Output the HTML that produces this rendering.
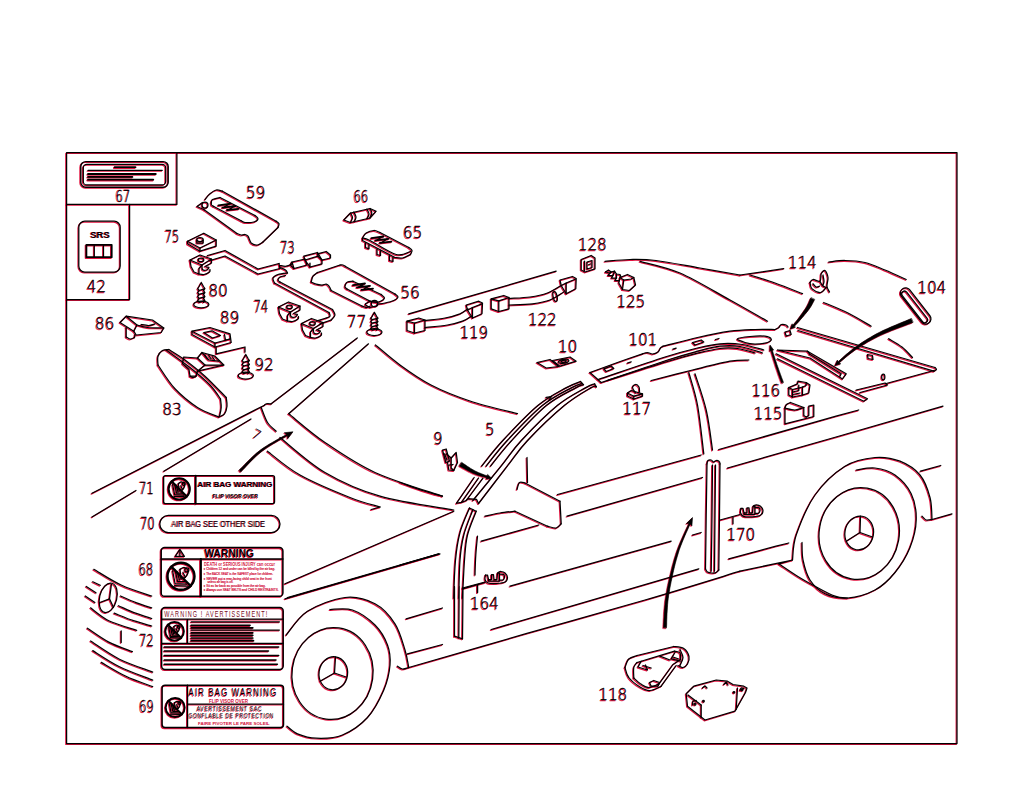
<!DOCTYPE html>
<html lang="en">
<head>
<meta charset="utf-8">
<title>Parts diagram</title>
<style>
html,body{margin:0;padding:0;background:#fff;}
body{width:1024px;height:794px;overflow:hidden;}
svg{display:block;color:#000;}
#art{stroke:currentColor;fill:none;stroke-width:1.25;stroke-linecap:round;stroke-linejoin:round;}
#art text{stroke:none;fill:currentColor;font-family:"Liberation Sans",sans-serif;}
.n{font-size:15.6px;text-anchor:middle;font-family:"DejaVu Sans Light","DejaVu Sans","Liberation Sans",sans-serif !important;font-weight:200;stroke:currentColor !important;stroke-width:.25;vector-effect:non-scaling-stroke;}
.c{font-size:16.3px;}
.b{font-weight:bold;}
.tk{stroke-width:2.4;}
.tk2{stroke-width:1.8;}
.f{fill:currentColor;}
.w{fill:#fff;}
#redtext text{font-family:"Liberation Sans",sans-serif;}
</style>
</head>
<body>
<svg width="1024" height="794" viewBox="0 0 1024 794">
<rect x="0" y="0" width="1024" height="794" fill="#fff"/>
<use href="#art" transform="translate(-0.8,0.8)" style="color:#e3123f"/>
<g id="art">
<!-- FRAME -->
<g id="frame">
<rect x="66.6" y="152.6" width="890.4" height="591"/>
<path d="M176.9 152.6V204.4H66.6"/>
<path d="M129.6 204.4V299.6H66.6"/>
</g>
<!-- NUMBERS -->
<g id="numbers">
<text class="n c" transform="translate(123 201.6) scale(.71 1)">67</text>
<text class="n" transform="translate(96.5 292.4) scale(.98 1)">42</text>
<text class="n" transform="translate(255.8 198.4) scale(.98 1)">59</text>
<text class="n c" transform="translate(172 242) scale(.71 1)">75</text>
<text class="n c" transform="translate(287.5 253) scale(.71 1)">73</text>
<text class="n c" transform="translate(361 202) scale(.71 1)">66</text>
<text class="n" transform="translate(412.8 238.4) scale(.98 1)">65</text>
<text class="n" transform="translate(410.3 298.4) scale(.98 1)">56</text>
<text class="n" transform="translate(218.3 296) scale(.98 1)">80</text>
<text class="n c" transform="translate(261 312) scale(.71 1)">74</text>
<text class="n" transform="translate(356.8 327.4) scale(.98 1)">77</text>
<text class="n" transform="translate(104.8 329.4) scale(.98 1)">86</text>
<text class="n" transform="translate(229.8 323) scale(.98 1)">89</text>
<text class="n" transform="translate(264.3 370) scale(.98 1)">92</text>
<text class="n" transform="translate(172.3 414.6) scale(.98 1)">83</text>
<text class="n" transform="translate(474 338.4) scale(.95 1)">119</text>
<text class="n" transform="translate(438 444.4) scale(.95 1)">9</text>
<text class="n" transform="translate(490 435) scale(.95 1)">5</text>
<text class="n c" transform="translate(146.5 493.6) scale(.71 1)">71</text>
<text class="n" transform="translate(592.5 250) scale(.97 1)">128</text>
<text class="n" transform="translate(631 307) scale(.97 1)">125</text>
<text class="n" transform="translate(542.5 325) scale(.97 1)">122</text>
<text class="n" transform="translate(567.8 352) scale(.98 1)">10</text>
<text class="n" transform="translate(643 345) scale(.97 1)">101</text>
<text class="n" transform="translate(802.5 268) scale(.97 1)">114</text>
<text class="n" transform="translate(932 293) scale(.97 1)">104</text>
<text class="n" transform="translate(637 414.4) scale(.97 1)">117</text>
<text class="n" transform="translate(766 396) scale(.97 1)">116</text>
<text class="n" transform="translate(768.3 419.4) scale(.97 1)">115</text>
<text class="n c" transform="translate(147.5 529) scale(.71 1)">70</text>
<text class="n c" transform="translate(146 575) scale(.71 1)">68</text>
<text class="n c" transform="translate(146.5 646) scale(.71 1)">72</text>
<text class="n c" transform="translate(146.5 712.4) scale(.71 1)">69</text>
<text class="n" transform="translate(484.5 609) scale(.97 1)">164</text>
<text class="n" transform="translate(741 540.4) scale(.97 1)">170</text>
<text class="n" transform="translate(613 700) scale(.97 1)">118</text>
<text class="n" x="0" y="0" transform="translate(254.5,438.5) rotate(28)" style="font-size:13px">7</text>
</g>
<g id="car">
<path d="M92 493.3 L264.5 405.2"/>
<path d="M264.5 405.2C264.8 405 265.1 404 266.2 403.8C267.4 403.5 270.4 403.8 271.2 403.8"/>
<path d="M271.2 403.8 L357.3 338"/>
<path d="M92 517 L136 490.5"/>
<path d="M163.8 471.2 L251 419"/>
<path d="M368.5 343.8 L288.7 413.7"/>
<path d="M288.8 413.8C294.8 418.5 310.6 432.7 325 442.5C339.4 452.3 355.4 463.5 375 472.5C394.6 481.5 431.2 492.3 442.5 496.2"/>
<path d="M280 437.5C287.5 443.3 308.3 462.7 325 472.5C341.7 482.3 358.5 490 380 496.2C401.5 502.5 441.5 507.7 453.8 510"/>
<path d="M267.5 451.2C272.9 455.2 286.2 467.3 300 475C313.8 482.7 336.7 492.2 350 497.5C363.3 502.8 375 505.4 380 507"/>
<path d="M380 507 L371.2 509.5"/>
<path d="M261.2 407.5C262.3 410 265 418.5 267.5 422.5C270 426.5 274.8 429.8 276.2 431.2"/>
<path d="M453.8 511.2 L285 583.8"/>
<path d="M438.8 553.8 L287.5 597.5"/>
<path d="M375.5 345C379.6 348.3 390.8 358.3 400 365C409.2 371.7 419.3 379 431 385C442.7 391 455.6 396.2 470 401C484.4 405.8 509.6 411.6 517.5 413.7"/>
<path d="M408.8 313.8 L556.2 271.2"/>
<path d="M605 261.3C609.2 261 621.5 259.6 630 259.5C638.5 259.4 644.3 259.1 656 260.5C667.7 261.9 686 265.6 700 268C714 270.4 733.3 273.8 740 275"/>
<path d="M740 275 L783.7 268.7"/>
<path d="M640 261.3C646.7 263.2 665 266.6 680 273C695 279.4 715.4 292 730 300C744.6 308 761.2 317.7 767.5 321.2"/>
<path d="M750 275C754.2 276.3 766.2 279.9 775 283C783.8 286.1 797.9 291.9 802.5 293.7"/>
<path d="M828.7 262C831.4 261.8 839 260.4 845 260.5C851 260.6 858.3 260.9 865 262.5C871.7 264.1 878.1 267.2 885 270C891.9 272.8 902.7 277.9 906.2 279.5"/>
<path d="M823.7 302.5C827.8 304.2 840.1 309.1 848 313C855.9 316.9 867.3 324 871.2 326.2"/>
<path d="M888.7 338.7C890.9 340.1 898 343.9 902 347C906 350.1 910.8 355.8 912.5 357.5"/>
<path d="M481.7 466.1C485.2 461.8 493.5 450.6 502.9 440.5C512.3 430.4 527.6 414.1 538.2 405.3C548.8 396.5 559.4 391.6 566.4 387.6C573.4 383.6 578.1 382.5 580.5 381.5"/>
<path d="M486.2 466.1C489.7 461.8 497.9 450.6 507.3 440.5C516.7 430.4 531.9 414.1 542.6 405.3C553.3 396.5 565.1 391.2 571.7 387.6C578.3 384 580.3 384.2 582 383.5"/>
<path d="M490.6 466.1C494.1 461.8 502.4 450.6 511.7 440.5C521 430.4 535.9 414.1 546.6 405.3C557.3 396.5 570 391.1 576.1 387.6C582.2 384.2 582.3 385.1 583.5 384.6"/>
<path d="M472.9 500.5C477.6 494.8 493 476.1 501.1 466.1C509.2 456.1 512 450.6 521.4 440.5C530.8 430.4 546.9 414.1 557.6 405.3C568.3 396.5 579.6 391.2 585.8 387.6C592 384 593.1 384.4 594.6 383.8"/>
<path d="M478.6 503.5C483.4 497.3 499.1 476.6 507.3 466.1C515.5 455.6 518.1 450.6 527.6 440.5C537.1 430.4 554 414.1 564.6 405.3C575.2 396.5 585.8 390.7 591.1 387.6C596.4 384.5 595.5 386.9 596.4 386.8"/>
<path d="M456.6 503.2 L474.2 477.5"/>
<path d="M461.5 502.3 L478.6 478"/>
<path d="M466.3 500.5 L483 478.2"/>
<path d="M456.6 503.2 L461.5 502.3 L466.3 500.5 L468 498.6 L476.5 499.3 L478.6 503.5"/>
<path d="M580.5 381.5 L583.5 384.6"/>
<path d="M594.6 383.8 L596.4 386.8"/>
<path d="M546.1 397.3 L551.5 396.5 L549 400"/>
<path d="M469.5 508C467.9 512.1 462.3 523.8 460 532.5C457.7 541.2 456.5 549.2 455.5 560C454.5 570.8 453.9 592.9 453.8 597.5C453.6 602.1 454.4 581 454.5 587.5C454.6 594 454.5 628.1 454.5 636.2"/>
<path d="M473 509.5C471.5 513.8 465.9 526.6 463.8 535C461.6 543.4 460.8 549.6 460 560C459.2 570.4 458.9 592.9 458.8 597.5C458.6 602.1 459.2 580.8 459.2 587.5C459.2 594.2 458.8 629.6 458.8 638"/>
<path d="M476.2 511.2C474.8 515.2 469.5 526.9 467.5 535C465.5 543.1 465.3 549.6 464.5 560C463.7 570.4 462.8 592.9 462.5 597.5C462.2 602.1 463 580.6 463 587.5C463 594.4 462.6 630.2 462.5 638.8"/>
<path d="M469.5 508 L476.2 511.2"/>
<path d="M454.5 636.2 L462.5 638.8"/>
<path d="M477.5 536.2C477.2 539.4 476.2 548.5 475.8 555C475.3 561.5 475.1 571.7 475 575"/>
<path d="M477.5 585 L477.5 592.5"/>
<path d="M400 482.5C403.8 483.8 415.4 488.2 422.5 490.5C429.6 492.8 439.2 495.3 442.5 496.2"/>
<path d="M400 565 L438.8 553.8"/>
<path d="M485 516.2C487.5 515.7 495 513.8 500 513C505 512.2 512.5 511.5 515 511.2"/>
<path d="M515 511.2 L547.5 526.2"/>
<path d="M547.5 526.2C549 526.5 554 528.4 556.2 528C558.5 527.6 560.4 524.5 561.2 523.8"/>
<path d="M561.2 523.8 L560 501.2"/>
<path d="M560 501.2 L525 483"/>
<path d="M525 483C524.1 482.9 520.8 481.4 519.5 482.5C518.2 483.6 517.4 488.3 517 489.5"/>
<path d="M527 457.5 L527.5 482.5"/>
<path d="M557.5 494.5 L701.2 455"/>
<path d="M567 516.2 L702.5 477.5"/>
<path d="M481.2 541.2 L538.8 525"/>
<path d="M510 586.2 L671.2 541.2"/>
<path d="M692.5 535 L701.2 532.5"/>
<path d="M462.5 588 L485 582"/>
<path d="M491.2 629.5 L698.8 568.8"/>
<path d="M728.8 558.8 L776 546.2 L788.8 543"/>
<path d="M408.7 667.5C428.2 661.9 486.6 645 526 633.7C565.4 622.5 609.3 610.4 645 600C680.7 589.6 724.2 576 740 571.2"/>
<path d="M407.5 653.8 L442.5 644.5"/>
<path d="M406.2 618.8 L442.5 608"/>
<path d="M285 598.8 L440 553.8"/>
<path d="M286.2 635C289.8 631 297.7 617.5 307.5 611.2C317.3 605 333.8 598.8 345 597.5C356.2 596.2 366.7 599.4 375 603.8C383.3 608.1 390 616 395 623.8C400 631.5 402.7 642.7 405 650C407.3 657.3 408.1 664.6 408.8 667.5"/>
<path d="M397.5 666.2C398.3 666.7 400.6 668.8 402.5 669C404.4 669.2 407.7 667.8 408.8 667.5"/>
<ellipse cx="332.5" cy="673.5" rx="40.5" ry="46" transform="rotate(8 332.5 673.5)"/>
<ellipse cx="333.3" cy="673.3" rx="14.3" ry="16.6" transform="rotate(8 333.3 673.3)"/>
<path d="M335.5 657 L334.5 673 L320 681.2"/>
<path d="M334.5 673 L346.2 677"/>
<path d="M330 609.5C333.8 609.6 345 607.4 352.5 610C360 612.6 369.2 619.2 375 625C380.8 630.8 385 638.3 387.5 645C390 651.7 390.6 657.5 390 665C389.4 672.5 387.5 681.2 383.8 690C380 698.8 374.4 710 367.5 717.5C360.6 725 351 731.5 342.5 735C334 738.5 323.8 738.5 316.2 738.2C308.8 738 302.4 735.8 297.5 733.8C292.6 731.8 288.8 727.5 287 726.2"/>
<path d="M688.8 372.5C690.2 377.9 695 391.5 697.5 405C700 418.5 702.7 445.6 703.8 453.8"/>
<path d="M695 373.8C696.9 379.8 703.3 397.3 706.2 410C709.2 422.7 711.5 443.3 712.5 450"/>
<path d="M651.2 380.5C658.1 378.8 679.4 373.2 692.5 370C705.6 366.8 720.6 362.9 730 361.2C739.4 359.6 745.6 360.2 748.8 360"/>
<path d="M718.8 449.5 L836 416.2 L858.7 410"/>
<path d="M727.5 468 L836 437 L943 406.2"/>
<path d="M707 463.8C706.9 472.3 706.5 497.5 706.2 515C706 532.5 705.6 559.8 705.5 568.8"/>
<path d="M712.5 465C712.4 473.3 712.2 497.3 712 515C711.8 532.7 711.4 561.9 711.2 571.2"/>
<path d="M715.5 465C715.4 473.3 715.2 497.3 715 515C714.8 532.7 714.6 561.9 714.5 571.2"/>
<path d="M720 463.8C719.9 472.3 719.7 497.3 719.5 515C719.3 532.7 718.9 560.8 718.8 570"/>
<path d="M707 463.8C707.2 463.2 707.3 461.1 708 460.5C708.7 459.9 710.3 459.8 711.2 460C712.2 460.2 712.7 461.9 713.5 462C714.3 462.1 715.3 460.6 716.2 460.5C717.2 460.4 718.6 461 719.2 461.5C719.9 462 719.9 463.4 720 463.8"/>
<path d="M705.5 568.8C705.8 569.3 706.4 571.3 707.5 572C708.6 572.7 710.5 572.9 712 573C713.5 573.1 715.1 573 716.2 572.5C717.4 572 718.3 570.4 718.8 570"/>
<path d="M720 520 L740 514.5"/>
<path d="M733 517.5 L733 523.8"/>
<path d="M462.5 588.8 L485 582.5"/>
<path d="M477.5 585 L477.5 592.5"/>
<path d="M792.5 560C793.1 555.8 792.5 545.8 796.2 535C800 524.2 806.9 506.5 815 495C823.1 483.5 835 472.5 845 466.2C855 460 865.8 458.3 875 457.5C884.2 456.7 892.5 458.3 900 461.2C907.5 464.2 915 469 920 475C925 481 928 490.1 930 497.5C932 504.9 931.7 515.8 932 519.5"/>
<path d="M922 516.2C922.7 516.9 924.6 519.5 926.2 520C927.9 520.5 931 519.6 932 519.5"/>
<path d="M932 519.5 L952 513.8"/>
<path d="M920.5 471.2 L940.8 465.5"/>
<path d="M740 571.2 L792.5 560 L778.8 563.8"/>
<path d="M778.8 563.8C781.9 565.8 791.5 572.5 797.5 576.2C803.5 580 808.8 582.9 815 586.2C821.2 589.6 829.6 594.3 835 596.2C840.4 598.2 845.4 597.7 847.5 598"/>
<ellipse cx="859.2" cy="533.5" rx="40" ry="46" transform="rotate(10 859.2 533.5)"/>
<ellipse cx="859.2" cy="533" rx="14.3" ry="17" transform="rotate(10 859.2 533)"/>
<path d="M860.5 516.2 L860 532.5 L846.2 541.2"/>
<path d="M860 532.5 L872.5 537"/>
<path d="M856.2 470C859.4 469.7 868.5 467.2 875 468C881.5 468.8 889 470.7 895 475C901 479.3 907.7 486.2 911.2 493.8C914.8 501.2 916.5 511 916.2 520C916 529 913.5 538.8 910 547.5C906.5 556.2 900.8 565.4 895 572.5C889.2 579.6 882.9 585.8 875 590C867.1 594.2 855.8 597.4 847.5 598C839.2 598.6 831.2 596.8 825 593.8C818.8 590.8 813.7 585.6 810 580C806.3 574.4 804.3 566.2 803 560C801.7 553.8 802.2 545.4 802 542.5"/>
<path d="M93.8 569.3C98.5 571.9 112 580.9 121.7 585.3C131.3 589.8 146.7 594.3 151.7 596"/>
<path d="M92.8 581.7 L100.3 585.3"/>
<path d="M86.3 586.4 L96 592.8"/>
<path d="M85.3 596 L94.9 602.5"/>
<path d="M120.6 596C123.3 597.2 131.5 600.9 136.7 602.9C141.8 604.9 149.2 607 151.7 607.8"/>
<path d="M118.5 605.7C121.3 606.9 130.1 611 135.6 613.2C141.1 615.3 149 617.6 151.7 618.5"/>
<path d="M114.2 613.2C117.4 614.4 127.2 618.5 133.5 620.7C139.7 622.8 148.6 625.1 151.7 626"/>
<path d="M90.6 607.8C93.7 610 101.2 616.9 108.8 620.7C116.5 624.4 132 628.7 136.7 630.3"/>
<path d="M87.4 628.2C91 630.5 101.3 638.2 108.8 642.1C116.3 646 128.5 650.1 132.4 651.7"/>
<path d="M90.6 641C95.4 644 109.2 654 119.5 659.2C129.9 664.4 147.2 669.9 152.7 672.1"/>
<path d="M92.8 650.6C97.2 653.3 109.5 661.8 119.5 666.7C129.5 671.6 147.2 677.9 152.7 680.2"/>
<path d="M101.3 662.4C105.4 664.7 117.4 672.3 126 676.3C134.5 680.4 148.3 684.9 152.7 686.6"/>
<path d="M121.2 630.9 L121.2 642.5"/>
<ellipse cx="108.2" cy="597.8" rx="8.6" ry="15" transform="rotate(14 108.2 597.8)"/>
<path d="M111.4 584.3 L109.5 598.8 L99.8 602.5"/>
<path d="M109.5 598.8 L113.5 607.4"/>
</g>
<g id="parts">
<rect x="80.8" y="161.6" width="87.4" height="25.6" rx="5" ry="5" style="stroke-width:1.4"/>
<rect x="83.3" y="164.3" width="82.4" height="20.6" rx="3.5" ry="3.5"/>
<path class="tk2" d="M114.6 167.2H135.5M88 174H155.8M88 176.9H132.4M88 179.7H153.3"/>
<path d="M88 170.4H162.2"/>
<rect x="78.8" y="221.2" width="41.4" height="50.8" rx="6" ry="6"/>
<text class="b" x="90.2" y="237.5" textLength="19.8" lengthAdjust="spacingAndGlyphs" style="font-size:9.9px">SRS</text>
<rect x="86.4" y="244.8" width="25.3" height="12.4" class="tk2"/>
<path d="M94.3 244.8V257.2M103.5 244.8V257.2"/>
<path d="M205 199.5C205.8 198.5 208.1 195.3 210 193.8C211.9 192.2 214.2 190.4 216.2 190C218.3 189.6 221.5 191 222.5 191.2"/>
<path d="M222.5 191.2 L276.2 221.2"/>
<path d="M276.2 221.2C276.7 221.7 278.7 222.7 279 223.8C279.3 224.8 278.2 226.9 278 227.5"/>
<path d="M278 227.5 L263 242"/>
<path d="M263 242C262.1 242.5 259.5 244.8 257.5 245C255.5 245.2 252.8 244.5 251.2 243C249.7 241.5 249.1 237.7 248 236.2C246.9 234.8 245.1 234.8 244.5 234.5"/>
<path d="M244.5 234.5C244 234.6 242.5 235.2 241.2 235C240 234.8 237.7 233.8 237 233.5"/>
<path d="M237 233.5 L204.5 210"/>
<path d="M204.5 210 L197 206.5 L202.5 202.5"/>
<ellipse cx="205" cy="205" rx="3" ry="3"/>
<path d="M211.2 203C211.5 202.4 211 200.4 212.5 199.5C214 198.6 218.8 197.8 220 197.5"/>
<path d="M220 197.5 L255 215.5"/>
<path d="M255 215.5C255.5 216 258.2 217.7 258 218.8C257.8 219.8 255.9 221.4 253.8 222C251.6 222.6 247.1 222.7 245 222.5C242.9 222.3 241.9 221 241.2 220.8"/>
<path d="M241.2 220.8 L213.8 206.5"/>
<path d="M213.8 206.5C213.4 206.2 211.9 205.6 211.5 205C211.1 204.4 211.3 203.3 211.2 203"/>
<path class="tk2" d="M218.5 205.4 L230.5 203.7"/>
<path class="tk2" d="M222.5 207.6 L235.5 206"/>
<path class="tk2" d="M227 210 L238.5 208.8"/>
<path d="M229 203.9 L223.5 207.6"/>
<path d="M234 206.2 L228.5 209.9"/>
<path d="M187.5 241.2 L203.8 233.2 L216.2 240 L216.2 246.2 L200 251.2 L187.5 243.8Z"/>
<path d="M187.5 241.2 L200 248 L216.2 240"/>
<path d="M200 248 L200 251.2"/>
<ellipse cx="200" cy="239.5" rx="3.2" ry="2"/>
<path d="M196.8 240 L196.8 243 L203.2 243 L203.2 240"/>
<path d="M207.5 255.5 L225 250.5 L258 269 L279 263.5"/>
<path d="M210 260.5 L225 256 L258 274 L280 268.5"/>
<path d="M279 263.5 L280 268.5"/>
<path d="M280 265.5C281 265.6 284.2 266.5 286.2 266.2C288.3 266 291.5 264.2 292.5 263.8"/>
<path d="M280 267.5C280.9 267.9 284.2 269.1 285.5 270C286.8 270.9 287.2 272.5 287.5 273"/>
<path d="M292 262 L305 259 L307 265 L294 268.5Z"/>
<path d="M292 262C291.8 262.5 290.2 263.9 290.5 265C290.8 266.1 293.4 267.9 294 268.5"/>
<path d="M303.8 256.2 L317.5 252.5 L322 260 L322 263.8 L310 267 L305 260Z"/>
<path d="M305 260 L318 256.2 L322 260"/>
<path d="M318 256.2 L317.5 252.5"/>
<path d="M317.5 253.8 L326.2 251.5 L330.5 255 L330.5 258 L322 260"/>
<path d="M310 267 L310 263"/>
<path d="M287.5 273C285.9 273.2 280.4 273.7 278 274.5C275.6 275.3 273.6 276.6 273 278C272.4 279.4 274.2 282.2 274.5 283"/>
<path d="M274.5 283 L329 312.5"/>
<path d="M329 312.5C329.2 313.1 330.5 315.3 330 316.2C329.5 317.2 326.9 317.7 326.2 318"/>
<path d="M326.2 318 L316.2 321.2"/>
<path d="M285.5 275.5C284.6 275.8 281.2 276.2 280 277C278.8 277.8 278 279.2 278 280C278 280.8 279.7 281.7 280 282"/>
<path d="M280 282 L332.5 309.5"/>
<path d="M332.5 309.5C332.9 310.4 335.2 313.2 335 315C334.8 316.8 331.9 319.2 331.2 320"/>
<path d="M331.2 320 L320 323.8"/>
<path d="M190 260 L200 255 L211.5 259 L202 265Z"/>
<ellipse cx="201" cy="259.9" rx="2.8" ry="1.7"/>
<path d="M190 260 L191 266.5 L194 272 L199 274 L199 268.5 L202 265"/>
<path d="M211.5 259 L211.5 263 L205 266.5"/>
<path d="M202 265C202.1 265.8 201.8 268.7 202.5 269.5C203.2 270.3 205.4 270.3 206.5 270C207.6 269.7 209 268 209 267.5C209 267 206.9 267.1 206.5 267"/>
<path d="M199 274C199.8 274.1 202.2 274.8 204 274.5C205.8 274.2 208.5 272.8 209.5 272C210.5 271.2 209.9 269.9 210 269.5"/>
<path d="M278.5 307 L288.5 302 L300 306 L290.5 312Z"/>
<ellipse cx="289.5" cy="306.9" rx="2.8" ry="1.7"/>
<path d="M278.5 307 L279.5 313.5 L282.5 319 L287.5 321 L287.5 315.5 L290.5 312"/>
<path d="M300 306 L300 310 L293.5 313.5"/>
<path d="M290.5 312C290.6 312.8 290.2 315.7 291 316.5C291.8 317.3 293.9 317.3 295 317C296.1 316.7 297.5 315 297.5 314.5C297.5 314 295.4 314.1 295 314"/>
<path d="M287.5 321C288.3 321.1 290.8 321.8 292.5 321.5C294.2 321.2 297 319.8 298 319C299 318.2 298.4 316.9 298.5 316.5"/>
<path d="M301.5 323.5 L311.5 318.5 L323 322.5 L313.5 328.5Z"/>
<ellipse cx="312.5" cy="323.4" rx="2.8" ry="1.7"/>
<path d="M301.5 323.5 L302.5 330 L305.5 335.5 L310.5 337.5 L310.5 332 L313.5 328.5"/>
<path d="M323 322.5 L323 326.5 L316.5 330"/>
<path d="M313.5 328.5C313.6 329.2 313.2 332.2 314 333C314.8 333.8 316.9 333.8 318 333.5C319.1 333.2 320.5 331.5 320.5 331C320.5 330.5 318.4 330.6 318 330.5"/>
<path d="M310.5 337.5C311.3 337.6 313.8 338.3 315.5 338C317.2 337.7 320 336.3 321 335.5C322 334.7 321.4 333.4 321.5 333"/>
<ellipse cx="201.3" cy="304.4" rx="7.6" ry="3.4"/>
<path d="M201.3 282.5L199.1 286.5L197.7 288.7 L199.1 290.5L197.7 292.6 L199.1 294.4L197.7 296.6 L199.1 298.4L197.7 300.6 L199.1 302.4M201.3 282.5L203.5 286.5L204.9 288.7 L203.5 290.5L204.9 292.6 L203.5 294.4L204.9 296.6 L203.5 298.4L204.9 300.6 L203.5 302.4M199.1 290.5 L204.9 288.7M199.1 294.4 L204.9 292.6M199.1 298.4 L204.9 296.6M199.1 302.4 L204.9 300.6"/>
<ellipse cx="374.4" cy="332.1" rx="7.6" ry="3.4"/>
<path d="M374.4 312.3L372.2 316.3L370.8 318.2 L372.2 319.7L370.8 321.6 L372.2 323.2L370.8 325.1 L372.2 326.6L370.8 328.5 L372.2 330.1M374.4 312.3L376.6 316.3L378 318.2 L376.6 319.7L378 321.6 L376.6 323.2L378 325.1 L376.6 326.6L378 328.5 L376.6 330.1M372.2 319.7 L378 318.2M372.2 323.2 L378 321.6M372.2 326.6 L378 325.1M372.2 330.1 L378 328.5"/>
<ellipse cx="245.8" cy="375.6" rx="7.6" ry="3.4"/>
<path d="M245.8 354.5L243.6 358.5L242.2 360.6 L243.6 362.3L242.2 364.3 L243.6 366L242.2 368.1 L243.6 369.8L242.2 371.9 L243.6 373.6M245.8 354.5L248 358.5L249.4 360.6 L248 362.3L249.4 364.3 L248 366L249.4 368.1 L248 369.8L249.4 371.9 L248 373.6M243.6 362.3 L249.4 360.6M243.6 366 L249.4 364.3M243.6 369.8 L249.4 368.1M243.6 373.6 L249.4 371.9"/>
<path d="M343.8 220 L350.5 213 L370 208.5 L376.2 211.2 L370 218 L350.5 222.5Z"/>
<path d="M350.5 213C350.8 213.8 352.5 215.9 352.5 217.5C352.5 219.1 350.8 221.7 350.5 222.5"/>
<path d="M353.8 212C354.1 212.8 355.9 215.4 356 217C356.1 218.6 354.5 221 354.2 221.8"/>
<path d="M370 208.5C370.3 209.2 371.8 211.4 371.8 213C371.8 214.6 370.3 217.2 370 218"/>
<path d="M367 209.2C367.3 210 369 212.4 369 214C369 215.6 367.3 218 367 218.8"/>
<path d="M362.5 238C363.1 237.2 364.4 234.2 366.2 233C368.1 231.8 371.5 230.6 373.8 230.5C376 230.4 379 232.2 380 232.5"/>
<path d="M380 232.5 L408.8 247.5"/>
<path d="M408.8 247.5C409.3 248 411.7 249.3 412 250.5C412.3 251.7 410.8 253.8 410.5 254.5"/>
<path d="M410.5 254.5C409.2 255.1 405.1 257.5 402.5 258C399.9 258.5 396.2 257.6 395 257.5"/>
<path d="M395 257.5 L362.5 240.5 L362.5 238"/>
<path d="M362.5 238C363.8 238.4 364.4 237.8 370 240.5C375.6 243.2 389.5 252.7 396.2 254.5C403 256.3 408.1 252 410.5 251.5"/>
<path d="M365.5 242.5 L365.5 247.5 L369 248.8 L369 244.5"/>
<path d="M377 248.8 L377 254.5 L380.5 255.5 L380.5 250.5"/>
<path d="M389.5 255.5 L389.5 260.5 L393 261.5 L393 257"/>
<path class="tk2" d="M371.4 238.2 L383.4 236.5"/>
<path class="tk2" d="M375.4 240.4 L388.4 238.8"/>
<path class="tk2" d="M379.9 242.8 L391.4 241.6"/>
<path d="M381.9 236.7 L376.4 240.4"/>
<path d="M386.9 239 L381.4 242.7"/>
<path d="M311.2 282C311.5 281 312 277.8 313 276.2C314 274.7 316.8 273.1 317.5 272.5"/>
<path d="M317.5 272.5 L340 265"/>
<path d="M340 265C340.5 265 342.1 264.8 343 265C343.9 265.2 345.1 266.2 345.5 266.5"/>
<path d="M345.5 266.5 L395 294"/>
<path d="M395 294C395.5 294.5 398.2 295.9 398 297C397.8 298.1 395.9 299.5 393.8 300.5C391.6 301.5 387.7 302.4 385 303C382.3 303.6 378.8 303.8 377.5 304"/>
<path d="M370 306.2C369.4 306.5 367.6 307.5 366.2 307.5C364.9 307.5 362.7 306.2 362 306"/>
<path d="M362 306 L331.2 290.5"/>
<path d="M331.2 290.5C330.9 289.8 329.8 287.3 329 286.2C328.2 285.2 327.4 284.5 326.2 284.2C325.1 284 323.7 285 322 285C320.3 285 318 284.8 316.2 284.2C314.5 283.8 312.1 282.4 311.2 282"/>
<path d="M345.5 284.5C345.8 284.1 346.2 282.5 347.5 282C348.8 281.5 352.1 281.4 353 281.2"/>
<path d="M353 281.2 L381.2 294.5"/>
<path d="M381.2 294.5C381.8 295.1 384.7 296.8 384.5 298C384.3 299.2 381.9 300.8 380 301.5C378.1 302.2 374.9 302.2 373 302C371.1 301.8 369.5 300.8 368.8 300.5"/>
<path d="M368.8 300.5 L347 289"/>
<path d="M347 289C346.7 288.7 345.2 287.8 345 287C344.8 286.2 345.4 284.9 345.5 284.5"/>
<path class="tk2" d="M353 285.2 L365 283.5"/>
<path class="tk2" d="M357 287.4 L370 285.8"/>
<path class="tk2" d="M361.5 289.8 L373 288.6"/>
<path d="M363.5 283.7 L358 287.4"/>
<path d="M368.5 286 L363 289.7"/>
<ellipse cx="374.5" cy="303.5" rx="3.2" ry="3.2"/>
<path d="M365.5 303.8 L370 301.2 L377.5 302.5 L377.5 305.5 L370 307.5 L365.5 305Z"/>
<path d="M192 331.2 L210 327.5 L230 333.8 L231.2 342.5 L215 347 L192 334.5Z"/>
<path d="M192 331.2 L215 343 L230 339"/>
<path d="M215 343 L215 347"/>
<path d="M203.8 332.5 L212 330.8 L220.5 335.5 L212.5 338Z"/>
<path d="M224.5 334.5 L225.5 340 L230 339"/>
<path d="M216.2 347.5 L216.2 353.8 L245 347 L245 352"/>
<path d="M120 322.5 L126.2 316.2 L152.5 320 L163.8 328 L161.2 332.5 L136.2 335 L133.8 331.2Z"/>
<path d="M126.2 316.2 L137 325 L133.8 331.2"/>
<path d="M137 325C138.8 325.4 143 327 147.5 327.5C152 328 161 327.9 163.8 328"/>
<path d="M141.2 324.5C142.5 324.7 146.5 325.6 148.8 325.5C151 325.4 154 324 155 323.8"/>
<path d="M126.2 327.5 L126.2 337"/>
<path d="M126.2 337C126.9 337.3 128.6 338.9 130 339C131.4 339.1 133.8 337.8 134.5 337.5"/>
<path d="M134.5 337.5 L135 334.5"/>
<path d="M158 365C158 363.5 157.2 358.7 158 356.2C158.8 353.8 160.7 351.6 162.5 350.5C164.3 349.4 167.7 349.7 168.8 349.5"/>
<path d="M168.8 349.5C171.5 351.2 179 355.5 185 360C191 364.5 198.1 370 205 376.2C211.9 382.5 222.7 394 226.2 397.5"/>
<path d="M226.2 397.5C226.4 399 227.3 403.5 227 406.2C226.7 409 225.9 412 224.5 413.8C223.1 415.5 219.7 416.5 218.8 417"/>
<path d="M218.8 417C215.2 415.4 204.8 412.2 197.5 407.5C190.2 402.8 181.6 395.8 175 388.8C168.4 381.7 160.8 369 158 365"/>
<path d="M166.2 350C170.2 352.9 182.7 361.7 190 367.5C197.3 373.3 204.9 379.8 210 385C215.1 390.2 218.8 396.5 220.5 398.8"/>
<path d="M220.5 398.8C220.6 400.2 221.4 404.6 221.2 407.5C221.1 410.4 219.8 414.8 219.5 416.2"/>
<path d="M183.8 357 L197.5 358 L202 352.5 L215 356.2 L223.8 365 L197.5 371.2 L196.2 376.2 L190 376.2 L189 369.5 L182.5 363.8Z"/>
<path d="M197.5 358 L205 365 L223.8 365"/>
<path d="M205 365 L197.5 371.2"/>
<path d="M202 352.5 L208.8 360 L218.8 361.2"/>
<path d="M205 355.5 L207.5 358.8"/>
<path d="M208.8 355.5 L211.2 359"/>
<path d="M212.5 357 L214.5 360"/>
<path d="M190 376.2C190.5 376.5 192 377.5 193 377.5C194 377.5 195.7 376.5 196.2 376.2"/>
<path d="M407 321.2 L418.8 318 L425 320 L425 330.5 L414.5 333 L407 330.5Z"/>
<path d="M407 321.2 L414.5 323 L425 320"/>
<path d="M414.5 323 L414.5 333"/>
<path d="M425 320.5C428.3 320.1 439.2 319.1 445 318C450.8 316.9 456.2 315.3 460 313.8C463.8 312.2 466.7 309.6 468 308.8"/>
<path d="M425 327.5C428.8 327.1 441.2 326 447.5 325C453.8 324 458.5 322.7 462.5 321.2C466.5 319.8 469.8 317.1 471.2 316.2"/>
<path d="M466.2 305 L478.8 301.2 L482.5 303 L482 313.8 L472.5 318 L467.5 310Z"/>
<path d="M467.5 310 L472.5 307.5 L472.5 318"/>
<path d="M472.5 307.5 L482 303.8"/>
<path d="M491.2 298.8 L503.8 295.5 L509 297.5 L509 308.8 L498.8 311.5 L491.2 308.8Z"/>
<path d="M491.2 298.8 L498.8 300.8 L509 297.5"/>
<path d="M498.8 300.8 L498.8 311.5"/>
<path d="M509 298.5C512.5 298.2 523.6 297.9 530 297C536.4 296.1 542.3 294.9 547.5 293C552.7 291.1 559 286.8 561.2 285.5"/>
<path d="M509 305C512.9 304.8 525.7 304.6 532.5 303.8C539.3 302.9 544.8 302 550 300C555.2 298 561.5 293.3 563.8 292"/>
<ellipse cx="555" cy="296.5" rx="2" ry="5" transform="rotate(-12 555 296)"/>
<path d="M560 280 L572.5 276.5 L576.2 278.5 L575.8 288.8 L566.2 293.8 L561.2 285.5Z"/>
<path d="M561.2 285.5 L566.2 283 L566.2 293.8"/>
<path d="M566.2 283 L575.8 279"/>
<path d="M581.2 259.5 L591.2 255.5 L595 258 L595 268.8 L585 272 L581.2 270Z"/>
<path d="M584.5 261.2 L584.5 270.5"/>
<path d="M587 262 L592 260.5 L592 267.5 L587 269 L587 262"/>
<path d="M588.8 264.5 L590.5 264"/>
<path d="M620 277.5 L627.5 274.5 L633.8 277.5 L635.5 285 L629.5 290.5 L622.5 289.5 L618.8 283Z"/>
<path d="M620 277.5 L623.8 280 L631.2 279 L633.8 277.5"/>
<path d="M623.8 280 L622.5 289.5"/>
<path d="M605.5 272 L610 273 L608 275.5 L613 275.5 L611.5 278 L616.5 278 L615 280.5 L619.5 280.5"/>
<path d="M605.5 272 L608.5 270 L611.2 272 L614.5 271.2 L616.5 274 L620 274.5 L621 277"/>
<path d="M610 273 L611.2 272"/>
<path d="M613 275.5 L614.5 271.2"/>
<path d="M616.5 278 L616.5 274"/>
<path d="M537 362.5 L550 359.5 L558.8 366.5 L546.2 368Z"/>
<path d="M552.5 360.5 L570 357 L576.2 361.2 L560 366.2Z"/>
<ellipse cx="563.7" cy="361.3" rx="5.2" ry="1.9" transform="rotate(-10 563.7 361.3)"/>
<ellipse cx="563.7" cy="361.3" rx="2.6" ry="1" transform="rotate(-10 563.7 361.3)"/>
<path d="M590 372.5C594.6 370.8 608.8 365.6 617.5 362.5C626.2 359.4 638.3 355.2 642.5 353.8"/>
<path d="M642.5 353.8C643.3 353.5 645.8 352.5 647.5 352.5C649.2 352.5 650.8 354.1 652.5 354C654.2 353.9 656.7 353 658 352C659.3 351 659.7 349 660.5 348C661.3 347 662.6 346.5 663 346.2"/>
<path d="M663 346.2C668.8 344.8 686.3 340 697.5 337.5C708.7 335 720.4 332.6 730 331.2C739.6 329.9 747.5 329.8 755 329.5C762.5 329.2 771.7 329.5 775 329.5"/>
<path d="M590 372.5 L601.2 382.5"/>
<path d="M601.2 382.5C612.3 378.8 651.5 365.2 667.5 360C683.5 354.8 688.8 353.5 697.5 351.2C706.2 349 712.9 347 720 346.2C727.1 345.5 732.9 345.4 740 346.5C747.1 347.6 758.8 351.9 762.5 353"/>
<path d="M598 379.5C609.2 375.8 648.4 362.2 665 357C681.6 351.8 688.3 350.2 697.5 348C706.7 345.8 712.5 344.3 720 343.8C727.5 343.2 735.2 343.5 742.5 344.5C749.8 345.5 760.2 349.1 763.8 350"/>
<path d="M607.5 380.5C617.5 377.3 652.5 366 667.5 361.5C682.5 357 688.8 355.4 697.5 353.2C706.2 351.1 713.3 349.3 720 348.5C726.7 347.7 731.7 347.8 737.5 348.5C743.3 349.2 752.1 352.2 755 353"/>
<path d="M603.8 368.8 L611.2 366 L613.8 368.5 L606.2 371.5Z"/>
<path d="M692.5 342.5 L701.2 340 L703.8 342 L695 345Z"/>
<path d="M627.5 363 L631.2 361.8"/>
<path d="M673 349.2 L676.2 348.2"/>
<path d="M715.5 339.5 L719 338.5"/>
<path d="M737.5 338.8C738.3 337.8 745.4 336.9 750 336.5C754.6 336.1 761.5 335.8 765 336.2C768.5 336.7 770.8 338 771.2 339C771.7 340 770.2 341.7 767.5 342.5C764.8 343.3 758.8 344 755 344C751.2 344 747.9 343.4 745 342.5C742.1 341.6 736.7 339.8 737.5 338.8Z"/>
<path d="M635.5 393C635 392.1 632.5 388.9 632.5 387.5C632.5 386.1 634.4 384.6 635.5 384.5C636.6 384.4 638.3 385.8 639 387C639.7 388.2 639.4 391.2 639.5 392"/>
<path d="M627.5 393 L631.2 390.5 L642.5 393.8 L642.5 396.2 L633.8 399 L627.5 396Z"/>
<path d="M627.5 393 L633.8 396.2 L642.5 393.8"/>
<path d="M633.8 396.2 L633.8 399"/>
<path class="f" style="stroke-width:.6" d="M783.4 382.2 L783.1 381.3 L782.7 380.3 L782.2 379.1 L781.7 377.7 L781.2 376.3 L780.6 374.7 L780 373.1 L779.4 371.4 L778.8 369.7 L778.2 368 L777.6 366.3 L777 364.7 L776.5 363.1 L775.9 361.3 L775.3 359.5 L774.7 357.6 L774 355.6 L773.4 353.7 L772.8 351.8 L772.3 350.1 L773.7 350.1 L770 345 L769.8 351.3 L771 350.5 L771.5 352.2 L772 354.1 L772.6 356 L773.2 358 L773.8 359.9 L774.4 361.8 L775 363.6 L775.5 365.3 L776 366.9 L776.6 368.5 L777.2 370.2 L777.8 372 L778.3 373.7 L778.9 375.3 L779.5 376.9 L780 378.4 L780.5 379.7 L780.9 380.9 L781.3 382 L781.6 382.8Z"/>
<path d="M788.8 387.5 L797.5 383.8 L798 381.2 L806.2 382.5 L810 385 L808.8 393 L802.5 395 L792.5 397 L788.8 395Z"/>
<path d="M788.8 387.5 L792.5 389.5 L802.5 387 L802.5 395"/>
<path d="M792.5 389.5 L792.5 397"/>
<path d="M792.5 392 L798.8 390.5 L798.8 385"/>
<path d="M792.5 394.5 L800 393"/>
<path d="M802.5 387 L806.2 385.5 L806.2 382.5"/>
<path d="M785 408C785.2 407.4 785.6 405.4 786.5 404.5C787.4 403.6 789.8 402.8 790.5 402.5"/>
<path d="M790.5 402.5 L803.8 407.5"/>
<path d="M785 408 L785 423.8 L813.8 416.5 L813.8 405 L808.8 406.2 L808.8 415.5 L806.2 417 L803.8 415.5 L803.8 407.5"/>
<path d="M785 408C786.7 408.3 791.9 410.1 795 410C798.1 409.9 802.3 407.9 803.8 407.5"/>
<path d="M810 282.5C810.5 282 811.3 279.7 813 279.5C814.7 279.3 818.6 282.2 820 281.2C821.4 280.3 820.4 275.5 821.2 273.8C822.1 272 823.9 269.9 825 270.5C826.1 271.1 827.7 274.9 828 277.5C828.3 280.1 826.8 283.8 827 286.2C827.2 288.7 829.1 291 829.5 292"/>
<path d="M810 282.5C810.3 283.5 810.2 287.1 812 288.8C813.8 290.4 818.1 292.7 820.5 292.5C822.9 292.3 825.3 288.3 826.2 287.5"/>
<path d="M820 281.2C820.4 282 821.5 284.5 822.5 285.5C823.5 286.5 825.6 287.2 826.2 287.5"/>
<path d="M823 275C823.2 276 824 279.6 824 281.2C824 282.9 823.2 284.4 823 285"/>
<path d="M813 283.8C813.5 284.3 815.2 286.6 816.2 287C817.3 287.4 819 286.4 819.5 286.2"/>
<path class="f" style="stroke-width:.6" d="M810.8 297.9 L810.6 298.3 L810.4 298.8 L810.1 299.4 L809.8 300.1 L809.5 300.8 L809.2 301.6 L808.8 302.4 L808.5 303.2 L808.1 304 L807.7 304.7 L807.4 305.4 L807 306.1 L806.7 306.7 L806.3 307.3 L805.9 308 L805.5 308.6 L805.1 309.2 L804.7 309.8 L804.2 310.4 L803.8 311 L803.4 311.6 L802.9 312.3 L802.5 312.9 L802 313.6 L801.5 314.2 L801.1 314.8 L800.6 315.5 L800.1 316.2 L799.7 316.8 L799.2 317.5 L798.7 318.1 L798.2 318.8 L797.7 319.4 L797.2 320.1 L796.7 320.7 L796.2 321.3 L795.7 322 L795.1 322.6 L794.6 323.3 L794 324 L793.3 324.7 L792.7 325.4 L792.2 323.8 L790.4 329 L795.5 327 L793.9 326.5 L794.6 325.9 L795.2 325.2 L795.9 324.6 L796.6 323.9 L797.2 323.3 L797.8 322.7 L798.3 322.1 L798.9 321.5 L799.4 320.8 L800 320.2 L800.5 319.6 L801.1 319 L801.6 318.3 L802.1 317.7 L802.7 317.1 L803.2 316.5 L803.7 315.9 L804.2 315.2 L804.7 314.6 L805.2 314.1 L805.7 313.5 L806.2 312.9 L806.7 312.3 L807.2 311.7 L807.7 311.1 L808.1 310.5 L808.6 309.8 L809.1 309.2 L809.5 308.6 L810 307.9 L810.4 307.2 L810.9 306.5 L811.4 305.7 L811.8 304.9 L812.3 304.1 L812.7 303.3 L813.1 302.5 L813.5 301.8 L813.8 301.2 L814.1 300.6 L814.4 300.1 L814.6 299.7Z"/>
<path d="M785 332 L790 330.5 L791.2 334.5 L786.2 336Z"/>
<path d="M775 329.5C775.6 329.2 777.7 328.3 778.8 327.5C779.8 326.7 780 324.9 781.2 324.5C782.5 324.1 785.1 324.6 786.2 325C787.4 325.4 787.7 326.7 788 327"/>
<rect x="0" y="0" width="43" height="10.4" rx="5" ry="5" transform="translate(906.5 285.8) rotate(52)"/>
<rect x="0" y="0" width="38.5" height="5.6" rx="2.8" ry="2.8" transform="translate(905 290) rotate(52)"/>
<path class="f" style="stroke-width:.6" d="M911.2 318.6 L909.7 319.2 L907.7 320 L905.4 321 L902.7 322.1 L899.9 323.2 L896.9 324.5 L893.8 325.8 L890.7 327.1 L887.6 328.5 L884.6 329.8 L881.9 331.1 L879.3 332.4 L877 333.6 L874.7 334.8 L872.5 336.1 L870.3 337.4 L868.2 338.6 L866.1 339.9 L864 341.2 L862 342.5 L860.1 343.8 L858.2 345.2 L856.3 346.5 L854.4 347.9 L852.5 349.3 L850.5 350.9 L848.6 352.5 L846.6 354.1 L844.7 355.8 L842.9 357.4 L841.1 359 L839.5 360.5 L838 361.9 L837.5 360 L835 365.5 L840.8 363.8 L839 363 L840.5 361.7 L842.2 360.2 L844 358.7 L845.9 357.1 L847.8 355.5 L849.8 353.9 L851.8 352.4 L853.7 351 L855.6 349.6 L857.5 348.3 L859.4 347.1 L861.4 345.8 L863.4 344.6 L865.4 343.4 L867.4 342.1 L869.5 340.9 L871.6 339.8 L873.8 338.6 L876.1 337.4 L878.3 336.3 L880.7 335.1 L883.2 334 L886 332.8 L888.9 331.6 L892 330.3 L895.1 329.1 L898.2 327.9 L901.3 326.8 L904.2 325.7 L906.8 324.7 L909.2 323.8 L911.2 323.1 L912.8 322.4Z"/>
<path d="M797.5 327.5 L935 367.5"/>
<path d="M798 330.5 L933.8 371.2"/>
<path d="M935 367.5C935.2 367.8 936.7 368.9 936.5 369.5C936.3 370.1 934.2 371 933.8 371.2"/>
<path d="M777.5 350 L807.5 351.2 L846.2 373.8 L842.5 379 L810 358Z"/>
<path d="M810 354.5 L841.2 373.8 L840 376.2"/>
<path d="M807.5 351.2 L810 354.5"/>
<path d="M776.2 353.8 L867.5 398.8 L863.8 401.2 L777.5 358.8"/>
<path d="M856.2 390 L885 383 L887.5 385 L860 392.5"/>
<path d="M886.2 383.5 L933.8 370.5"/>
<ellipse cx="883.3" cy="377" rx="1.6" ry="2.8"/>
<path d="M867.5 354.5 L872.5 355.5 L873 359.5 L868 358.5Z"/>
<path d="M442.5 450 L446.2 449 L449.5 461.2 L445.8 462.5Z"/>
<path d="M446.2 453.8 L451.2 458 L456.2 452.5 L457.5 462.5 L453.8 470.5 L448.8 470 L447.5 462.5"/>
<path d="M451.2 458 L451.2 468 L453.8 470.5"/>
<path d="M448.8 465 L453 464.5"/>
<path d="M444.5 453.8 L447 460"/>
<path class="f" style="stroke-width:.6" d="M459.5 466 L460.2 466.4 L461.1 466.9 L462.1 467.4 L463.2 468.1 L464.5 468.8 L465.8 469.5 L467.2 470.3 L468.7 471.1 L470.1 471.8 L471.6 472.5 L473 473.2 L474.4 473.8 L475.8 474.3 L477.4 474.9 L479 475.4 L480.6 475.9 L482.3 476.4 L483.9 476.8 L485.5 477.3 L487 477.7 L486.1 479 L491.6 478.2 L487.6 474.4 L487.5 476 L486 475.5 L484.5 474.9 L482.9 474.3 L481.4 473.7 L479.8 473.1 L478.3 472.5 L476.9 471.8 L475.6 471.2 L474.3 470.5 L473 469.8 L471.7 469 L470.3 468.2 L469 467.3 L467.7 466.5 L466.4 465.6 L465.3 464.8 L464.2 464.1 L463.2 463.4 L462.4 462.8 L461.7 462.4Z"/>
<path class="f" style="stroke-width:.6" d="M240.8 471.9 L241.9 470.8 L243.1 469.5 L244.6 468 L246.2 466.2 L247.9 464.4 L249.8 462.4 L251.8 460.4 L253.9 458.3 L256 456.3 L258.2 454.3 L260.4 452.5 L262.6 450.7 L264.9 449.1 L267.5 447.3 L270.3 445.5 L273.2 443.7 L276.2 442 L279.2 440.2 L282.2 438.6 L285 437 L287.5 435.6 L287.7 438.7 L293 431.8 L284.4 432.7 L286.9 434.4 L284.3 435.8 L281.5 437.3 L278.5 438.9 L275.5 440.6 L272.4 442.4 L269.4 444.1 L266.5 445.9 L263.9 447.6 L261.4 449.3 L259.2 451 L256.9 452.8 L254.7 454.8 L252.5 456.8 L250.3 458.9 L248.3 460.9 L246.4 462.8 L244.6 464.7 L242.9 466.4 L241.4 467.9 L240.2 469.1 L239.2 470.1Z"/>
<path class="f" style="stroke-width:.6" d="M666.5 627.6 L666.6 626 L666.7 624.1 L666.7 622 L666.8 619.5 L666.9 616.8 L667 614 L667.2 611 L667.4 607.9 L667.6 604.7 L667.9 601.5 L668.3 598.3 L668.7 595.2 L669.3 592 L669.8 588.6 L670.5 585.1 L671.2 581.5 L672 577.9 L672.8 574.1 L673.6 570.4 L674.5 566.7 L675.4 563.1 L676.4 559.5 L677.4 556.1 L678.4 552.8 L679.4 549.5 L680.7 546.1 L682 542.7 L683.4 539.3 L684.8 535.9 L686.3 532.6 L687.7 529.5 L689 526.6 L690.3 523.9 L691.9 526 L692.5 517.5 L686.4 523.5 L689.1 523.3 L687.8 526 L686.4 528.9 L685 532 L683.5 535.3 L682 538.7 L680.5 542.1 L679.1 545.5 L677.8 548.9 L676.6 552.2 L675.6 555.5 L674.5 559 L673.5 562.6 L672.5 566.2 L671.6 569.9 L670.7 573.7 L669.8 577.4 L669 581.1 L668.2 584.7 L667.5 588.2 L666.9 591.6 L666.3 594.8 L665.8 598 L665.3 601.2 L665 604.5 L664.7 607.7 L664.4 610.8 L664.2 613.8 L664.1 616.7 L663.9 619.4 L663.8 621.8 L663.7 624 L663.6 625.9 L663.5 627.4Z"/>
<path d="M485.5 575C485.4 575.8 484.6 578.2 485 579.5C485.4 580.8 486 582.3 488 583C490 583.7 494.2 583.7 497 583.5C499.8 583.3 503.2 583 505 582C506.8 581 507.5 579 507.5 577.5C507.5 576 506.1 574 505 573C503.9 572 502.2 571.6 501 571.5C499.8 571.4 498.5 572.3 498 572.5"/>
<path d="M485.5 575 L487.5 575 L488.5 579.5 L491.5 579.5 L491.5 574.5 L493.5 574.5 L494 579.5 L497 579.5 L497.5 573 L499.5 573 L499.5 580"/>
<path d="M499.5 574C500.2 574.1 502.7 573.9 503.5 574.5C504.3 575.1 504.6 576.6 504.5 577.5C504.4 578.4 503.8 579.6 503 580C502.2 580.4 500.1 580 499.5 580"/>
<path d="M488.5 579.5 L488.5 581 L499.5 581"/>
<path d="M741 508.3C740.9 509.1 740.1 511.5 740.5 512.8C740.9 514.1 741.5 515.6 743.5 516.3C745.5 517 749.7 517 752.5 516.8C755.3 516.6 758.8 516.3 760.5 515.3C762.2 514.3 763 512.3 763 510.8C763 509.3 761.6 507.3 760.5 506.3C759.4 505.3 757.7 504.9 756.5 504.8C755.3 504.7 754 505.6 753.5 505.8"/>
<path d="M741 508.3 L743 508.3 L744 512.8 L747 512.8 L747 507.8 L749 507.8 L749.5 512.8 L752.5 512.8 L753 506.3 L755 506.3 L755 513.3"/>
<path d="M755 507.3C755.7 507.4 758.2 507.2 759 507.8C759.8 508.4 760.1 509.9 760 510.8C759.9 511.7 759.3 512.9 758.5 513.3C757.7 513.7 755.6 513.3 755 513.3"/>
<path d="M744 512.8 L744 514.3 L755 514.3"/>
<path d="M625 667.5C625.6 666.1 626.8 661 628.8 659C630.8 657 635.6 656.1 637 655.5"/>
<path d="M637 655.5 L673.8 646.5"/>
<path d="M673.8 646.5C675.4 646.8 681.2 646.8 683.8 648.5C686.3 650.2 688.4 653.9 689 656.5C689.6 659.1 688.5 662.2 687.5 664C686.5 665.8 684.6 667.2 683 667.5C681.4 667.8 678.8 665.8 678 665.5"/>
<path d="M676.2 665.5 L661.2 686.2"/>
<path d="M661.2 686.2C659.4 687 653.5 690.4 650 690.5C646.5 690.6 643.5 689.2 640 687C636.5 684.8 631.2 680.8 628.8 677.5C626.2 674.2 625.6 669.2 625 667.5"/>
<path d="M633.8 678C633.8 676.2 633.2 670.1 633.8 667.5C634.3 664.9 636.5 663.3 637 662.5"/>
<path d="M637 662.5 L674.5 651.2"/>
<path d="M674.5 651.2C675.4 651.5 679 651.6 680 653C681 654.4 680.4 658.4 680.5 659.5"/>
<path d="M680.5 659.5 L673 664.5 L659 683.8"/>
<path d="M659 683.8C657.3 684.4 651.8 687.5 648.8 687.5C645.7 687.5 643 685.3 640.5 683.8C638 682.2 634.9 679 633.8 678"/>
<path d="M680 649.5C680.5 650.8 683 654.8 683 657.5C683 660.2 680.5 664.2 680 665.5"/>
<path d="M641.2 661.2 L638 667 L647.5 670 L645.5 665"/>
<path d="M643 665.5 L651.2 668"/>
<path d="M675 652.5 L671.2 658.8 L680.5 661.2"/>
<path d="M673 657 L678.8 659"/>
<path d="M660 656.2 L670 660"/>
<path d="M649.5 682.5 L653.8 680.5 L659.5 682.5 L658 686.2 L651.2 686.2Z"/>
<path d="M686.2 693.8 L693.8 686.2 L716.2 680 L727.5 681.2 L733 684.5 L743.8 686.2 L747 688 L745.5 692.5 L735 711.2 L705 720 L687.5 706.2Z"/>
<path d="M701.2 705 L701.2 717.5"/>
<path d="M688 695 L701.2 705"/>
<path d="M737.5 688 L736.2 709.5"/>
<path d="M702.5 688 L705 685.8 L707 688"/>
<path d="M723.8 684.5 L726.2 682 L728 685"/>
<path d="M692.5 705C692.6 704.4 692.4 702 693 701.2C693.6 700.5 695.7 700.6 696.2 700.5"/>
<path d="M740 690.5C740.2 690.1 740.6 688.3 741.2 688C741.9 687.7 743.5 688.6 744 688.8"/>
<circle cx="695" cy="704" r="1"/><circle cx="703.5" cy="701.2" r=".8"/><circle cx="734" cy="692.3" r=".8"/><circle cx="742" cy="690" r=".8"/>
</g>
<g id="labels">
<rect x="163.6" y="475.6" width="110.9" height="28" rx="1.8" ry="1.8" style="stroke-width:1.4"/>
<path style="stroke-width:1.8" d="M195.7 475.6V503.6"/>
<circle cx="179.2" cy="488.9" r="10.6" style="stroke-width:2.1"/>
<path style="stroke-width:2.1" d="M171.6 481.3L186.8 496.5"/>
<path d="M172.6 484.6 L174.6 494.7 L183.5 495.1"/>
<path d="M174.6 483.9 L176.5 493.2 L182.7 493.2"/>
<path d="M174.2 496.3 L184.2 496.6"/>
<path d="M176.1 485 L178 492"/>
<path d="M178.4 483.5C178.9 483.2 180.5 481.8 181.5 481.9C182.6 482.1 184.2 483.2 184.6 484.3C185 485.3 184.5 487.1 183.8 488.1C183.2 489.2 181.7 490.4 180.7 490.4C179.8 490.4 178.8 488.5 178.4 488.1"/>
<path d="M178.4 483.5 L179.2 491.2"/>
<circle cx="183.8" cy="483.9" r="1.5"/>
<path d="M180.7 485.8 L182.7 489.7"/>
<text class="b" x="197.6" y="486.5" textLength="75" lengthAdjust="spacingAndGlyphs" style="font-size:8.1px;">AIR BAG WARNING</text>
<text class="b" x="212.5" y="497.9" textLength="45.6" lengthAdjust="spacingAndGlyphs" style="font-size:5px;">FLIP VISOR OVER</text>
<rect x="159.8" y="515.4" width="120.2" height="17.2" rx="8.6" ry="8.6" style="stroke-width:1.3"/>
<text x="171.4" y="526.7" textLength="93.8" lengthAdjust="spacingAndGlyphs" style="font-size:8.7px;">AIR BAG SEE OTHER SIDE</text>
<rect x="161.2" y="547.6" width="121.7" height="48.7" rx="3.4" ry="3.4" style="stroke-width:1.5"/>
<path style="stroke-width:1.5" d="M161.2 559H282.9"/>
<path style="stroke-width:2" d="M200.9 559V596.3"/>
<path d="M175.2 556.4 L179.9 549.3 L184.4 556.4Z"/>
<path d="M179.9 551.5V554.2M179.9 555.1V555.6"/>
<text class="b" x="204.5" y="557.1" textLength="49.6" lengthAdjust="spacingAndGlyphs" style="font-size:10.9px;">WARNING</text>
<circle cx="181" cy="576.3" r="13.5" style="stroke-width:2.4"/>
<path style="stroke-width:2.4" d="M171.3 566.6L190.7 586"/>
<path d="M172.6 570.9 L175.1 583.7 L186.4 584.2"/>
<path d="M175.1 569.9 L177.6 581.7 L185.4 581.7"/>
<path d="M174.6 585.7 L187.4 586.2"/>
<path d="M177.1 571.4 L179.5 580.2"/>
<path d="M180 569.4C180.7 569.1 182.6 567.3 184 567.4C185.3 567.6 187.4 569.1 187.9 570.4C188.4 571.7 187.7 574 186.9 575.3C186.1 576.6 184.1 578.3 183 578.3C181.8 578.3 180.5 575.8 180 575.3"/>
<path d="M180 569.4 L181 579.3"/>
<circle cx="186.9" cy="569.9" r="2"/>
<path d="M183 572.4 L185.4 577.3"/>
<rect x="161.6" y="607.6" width="121.6" height="61.9" rx="3.4" ry="3.4" style="stroke-width:1.5"/>
<path style="stroke-width:1.4" d="M161.6 619.1H283.2M161.6 643.5H283.2M187.5 619.1V643.5"/>
<circle cx="174.6" cy="631.3" r="9.3" style="stroke-width:1.9"/>
<path style="stroke-width:1.9" d="M167.9 624.6L181.3 638"/>
<path d="M168.8 627.6 L170.5 636.4 L178.3 636.7"/>
<path d="M170.5 626.9 L172.2 635 L177.7 635"/>
<path d="M170.2 637.7 L179 638.1"/>
<path d="M171.9 627.9 L173.6 634"/>
<path d="M173.9 626.5C174.4 626.3 175.7 625.1 176.6 625.2C177.5 625.3 179 626.3 179.4 627.2C179.7 628.1 179.2 629.7 178.7 630.6C178.1 631.5 176.7 632.7 176 632.7C175.2 632.7 174.3 631 173.9 630.6"/>
<path d="M173.9 626.5 L174.6 633.3"/>
<circle cx="178.7" cy="626.9" r="1.4"/>
<path d="M176 628.6 L177.7 632"/>
<path d="M191.2 621.9H279.4M191.2 630.1H279.4"/>
<path style="stroke-width:1.7" d="M191.2 625.3H250M191.2 627.8H252.8M191.2 632.8H252.8M191.2 635.3H252.8M191.2 638H252.8M191.2 640.7H253.5"/>
<path style="stroke-width:1.5" d="M164.3 646.9H278.7M164.3 650.9H268.5M164.3 655.4H278.7M164.3 659.9H276M164.3 664.3H277.4"/>
<rect x="162.1" y="685.3" width="121.4" height="42.3" rx="3" ry="3" style="stroke-width:1.5"/>
<path style="stroke-width:1.4" d="M187.5 685.3V727.6M187.5 704.1H283.5"/>
<circle cx="175.2" cy="707.5" r="9.5" style="stroke-width:1.9"/>
<path style="stroke-width:1.9" d="M168.4 700.7L182 714.3"/>
<path d="M169.3 703.7 L171 712.7 L179 713"/>
<path d="M171 703 L172.8 711.3 L178.3 711.3"/>
<path d="M170.7 714.1 L179.7 714.4"/>
<path d="M172.4 704 L174.2 710.3"/>
<path d="M174.5 702.6C175 702.4 176.4 701.1 177.3 701.3C178.2 701.4 179.7 702.4 180.1 703.3C180.4 704.3 179.9 705.9 179.4 706.8C178.8 707.7 177.4 708.9 176.6 708.9C175.8 708.9 174.9 707.2 174.5 706.8"/>
<path d="M174.5 702.6 L175.2 709.6"/>
<circle cx="179.4" cy="703" r="1.4"/>
<path d="M176.6 704.7 L178.3 708.2"/>
<text x="188.6" y="695.9" textLength="88.8" lengthAdjust="spacingAndGlyphs" style="font-size:10.3px;letter-spacing:1.5px;">AIR BAG WARNING</text>
<text x="196.7" y="710.9" textLength="65.6" lengthAdjust="spacingAndGlyphs" style="font-size:6.5px;letter-spacing:.8px;">AVERTISSEMENT SAC</text>
<text x="188.5" y="717.8" textLength="85.5" lengthAdjust="spacingAndGlyphs" style="font-size:6.5px;letter-spacing:.8px;">GONFLABLE DE PROTECTION</text>
</g>
</g>
<g id="redtext">
<text class="b" x="204" y="566" textLength="71" lengthAdjust="spacingAndGlyphs" style="font-size:4.7px;fill:#d3123c;">DEATH or SERIOUS INJURY can occur</text>
<text x="203.6" y="570.4" textLength="71.4" lengthAdjust="spacingAndGlyphs" style="font-size:3.7px;fill:#d3123c;stroke:#d3123c;stroke-width:.2;">● Children 12 and under can be killed by the air bag.</text>
<text x="203.6" y="575.3" textLength="69.5" lengthAdjust="spacingAndGlyphs" style="font-size:3.7px;fill:#d3123c;stroke:#d3123c;stroke-width:.2;">● The BACK SEAT is the SAFEST place for children.</text>
<text x="203.6" y="579.9" textLength="68" lengthAdjust="spacingAndGlyphs" style="font-size:3.7px;fill:#d3123c;stroke:#d3123c;stroke-width:.2;">● NEVER put a rear-facing child seat in the front</text>
<text x="207.4" y="583.2" textLength="26" lengthAdjust="spacingAndGlyphs" style="font-size:3.7px;fill:#d3123c;stroke:#d3123c;stroke-width:.2;">unless air bag is off.</text>
<text x="203.6" y="587.1" textLength="62" lengthAdjust="spacingAndGlyphs" style="font-size:3.7px;fill:#d3123c;stroke:#d3123c;stroke-width:.2;">● Sit as far back as possible from the air bag.</text>
<text x="203.6" y="591.2" textLength="75" lengthAdjust="spacingAndGlyphs" style="font-size:3.7px;fill:#d3123c;stroke:#d3123c;stroke-width:.2;">● Always use SEAT BELTS and CHILD RESTRAINTS.</text>
<text x="164.3" y="616.8" textLength="104" lengthAdjust="spacingAndGlyphs" style="font-size:8.3px;fill:#d3123c;letter-spacing:1.6px;fill:#7a0a22;">WARNING ! AVERTISSEMENT!</text>
<text class="b" x="209" y="702.7" textLength="39" lengthAdjust="spacingAndGlyphs" style="font-size:4.6px;fill:#d3123c;">FLIP VISOR OVER</text>
<text class="b" x="198" y="724.6" textLength="71.6" lengthAdjust="spacingAndGlyphs" style="font-size:4.3px;fill:#d3123c;">FAIRE PIVOTER LE PARE SOLEIL</text>
</g>
</svg>
</body>
</html>
